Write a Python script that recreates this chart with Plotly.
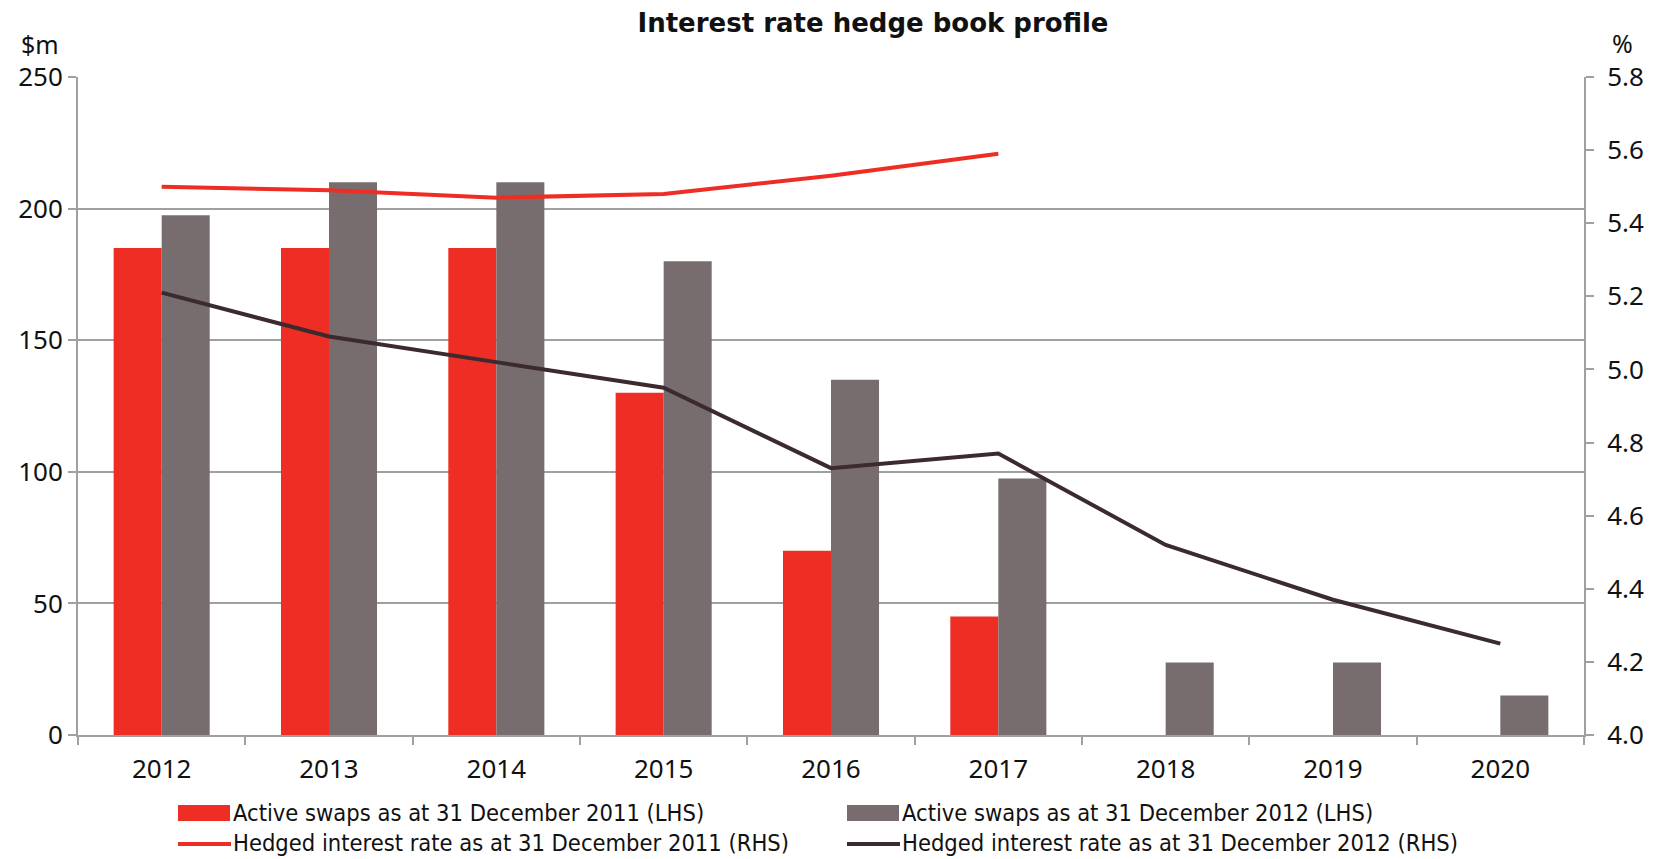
import plotly.graph_objects as go

years = ["2012", "2013", "2014", "2015", "2016", "2017", "2018", "2019", "2020"]
swaps_2011 = [185, 185, 185, 130, 70, 45, None, None, None]
swaps_2012 = [197.5, 210, 210, 180, 135, 97.5, 27.5, 27.5, 15]
rate_2011 = [5.50, 5.49, 5.47, 5.48, 5.53, 5.59, None, None, None]
rate_2012 = [5.21, 5.09, 5.02, 4.95, 4.73, 4.77, 4.52, 4.37, 4.25]

names = [
    "Active swaps as at 31 December 2011 (LHS)",
    "Active swaps as at 31 December 2012 (LHS)",
    "Hedged interest rate as at 31 December 2011 (RHS)",
    "Hedged interest rate as at 31 December 2012 (RHS)",
]

RED = "#EE2D24"
GREY = "#776D6F"
DARK = "#3B2A2F"
GRID = "#A0A0A0"

fig = go.Figure()
fig.add_trace(go.Bar(x=years, y=swaps_2011, name=names[0], marker=dict(color=RED, line=dict(width=0)), showlegend=False))
fig.add_trace(go.Bar(x=years, y=swaps_2012, name=names[1], marker=dict(color=GREY, line=dict(width=0)), showlegend=False))
fig.add_trace(go.Scatter(x=years, y=rate_2011, name=names[2], mode="lines", line=dict(color=RED, width=4), yaxis="y2", showlegend=False))
fig.add_trace(go.Scatter(x=years, y=rate_2012, name=names[3], mode="lines", line=dict(color=DARK, width=4), yaxis="y2", showlegend=False))

# page body has an 8px margin: work in page pixels, subtract offset
O = 8
W, H = 1660 - O, 859 - O
L, R, T, B = 78, 1584, 77, 735  # plot area in page pixels
pw, ph = R - L, B - T

def px(x):
    return (x - L) / pw

def py(y):
    return (B - y) / ph

FONT = "Noto Sans, DejaVu Sans, sans-serif"
TFONT = "DejaVu Sans, sans-serif"
LFONT = "DejaVu Sans Condensed, sans-serif"

shapes = []
annotations = []
legend_items = [
    (names[0], "rect", RED, 178, 813),
    (names[1], "rect", GREY, 847, 813),
    (names[2], "line", RED, 178, 843),
    (names[3], "line", DARK, 847, 843),
]
for text, kind, color, x0, yc in legend_items:
    if kind == "rect":
        shapes.append(dict(type="rect", xref="paper", yref="paper",
                           x0=px(x0), x1=px(x0 + 52), y0=py(yc - 8), y1=py(yc + 8),
                           fillcolor=color, line=dict(width=0)))
    else:
        shapes.append(dict(type="line", xref="paper", yref="paper",
                           x0=px(x0), x1=px(x0 + 53), y0=py(yc + 1), y1=py(yc + 1),
                           line=dict(color=color, width=4)))
    annotations.append(dict(xref="paper", yref="paper", x=px(x0 + 54), y=py(yc),
                            xanchor="left", yanchor="middle", showarrow=False, borderpad=0,
                            text=text, font=dict(family=LFONT, size=23.5, color="#111111")))

annotations.append(dict(xref="paper", yref="paper", x=px(40), y=py(44), xanchor="center", yanchor="middle",
                        showarrow=False, text="$m", font=dict(family=FONT, size=25, color="#111111")))
annotations.append(dict(xref="paper", yref="paper", x=px(1622), y=py(43), xanchor="center", yanchor="middle",
                        showarrow=False, text="%", font=dict(family=FONT, size=25, color="#111111")))

fig.update_layout(
    width=W, height=H,
    margin=dict(l=L - O, r=W - (R - O), t=T - O, b=H - (B - O)),
    paper_bgcolor="white", plot_bgcolor="white",
    title=dict(text="<b>Interest rate hedge book profile</b>", x=(873 - O) / W, xanchor="center",
               y=1 - (23 - O) / H, yanchor="middle", font=dict(family=TFONT, size=26, color="#111111")),
    barmode="group", bargap=0.426, bargroupgap=0,
    showlegend=False,
    shapes=shapes, annotations=annotations,
    xaxis=dict(type="category", showgrid=False, showline=True, linecolor=GRID, linewidth=2,
               ticks="outside", tickson="boundaries", ticklen=8, tickcolor=GRID, tickwidth=2,
               automargin=False,
               tickfont=dict(family=FONT, size=26, color="#111111"), ticklabelstandoff=10),
    yaxis=dict(range=[0, 250], dtick=50, showgrid=True, gridcolor=GRID, gridwidth=2,
               showline=True, linecolor=GRID, linewidth=2, ticks="outside", ticklen=8,
               tickcolor=GRID, tickwidth=2, zeroline=False, automargin=False,
               tickfont=dict(family=FONT, size=26, color="#111111"), ticklabelstandoff=0),
    yaxis2=dict(range=[4.0, 5.8], dtick=0.2, tickformat=".1f", overlaying="y", side="right",
                showgrid=False, showline=True, linecolor=GRID, linewidth=2, ticks="outside",
                ticklen=8, tickcolor=GRID, tickwidth=2, zeroline=False, automargin=False,
                tickfont=dict(family=FONT, size=26, color="#111111"), ticklabelstandoff=8),
)

fig.write_html("out.html")
